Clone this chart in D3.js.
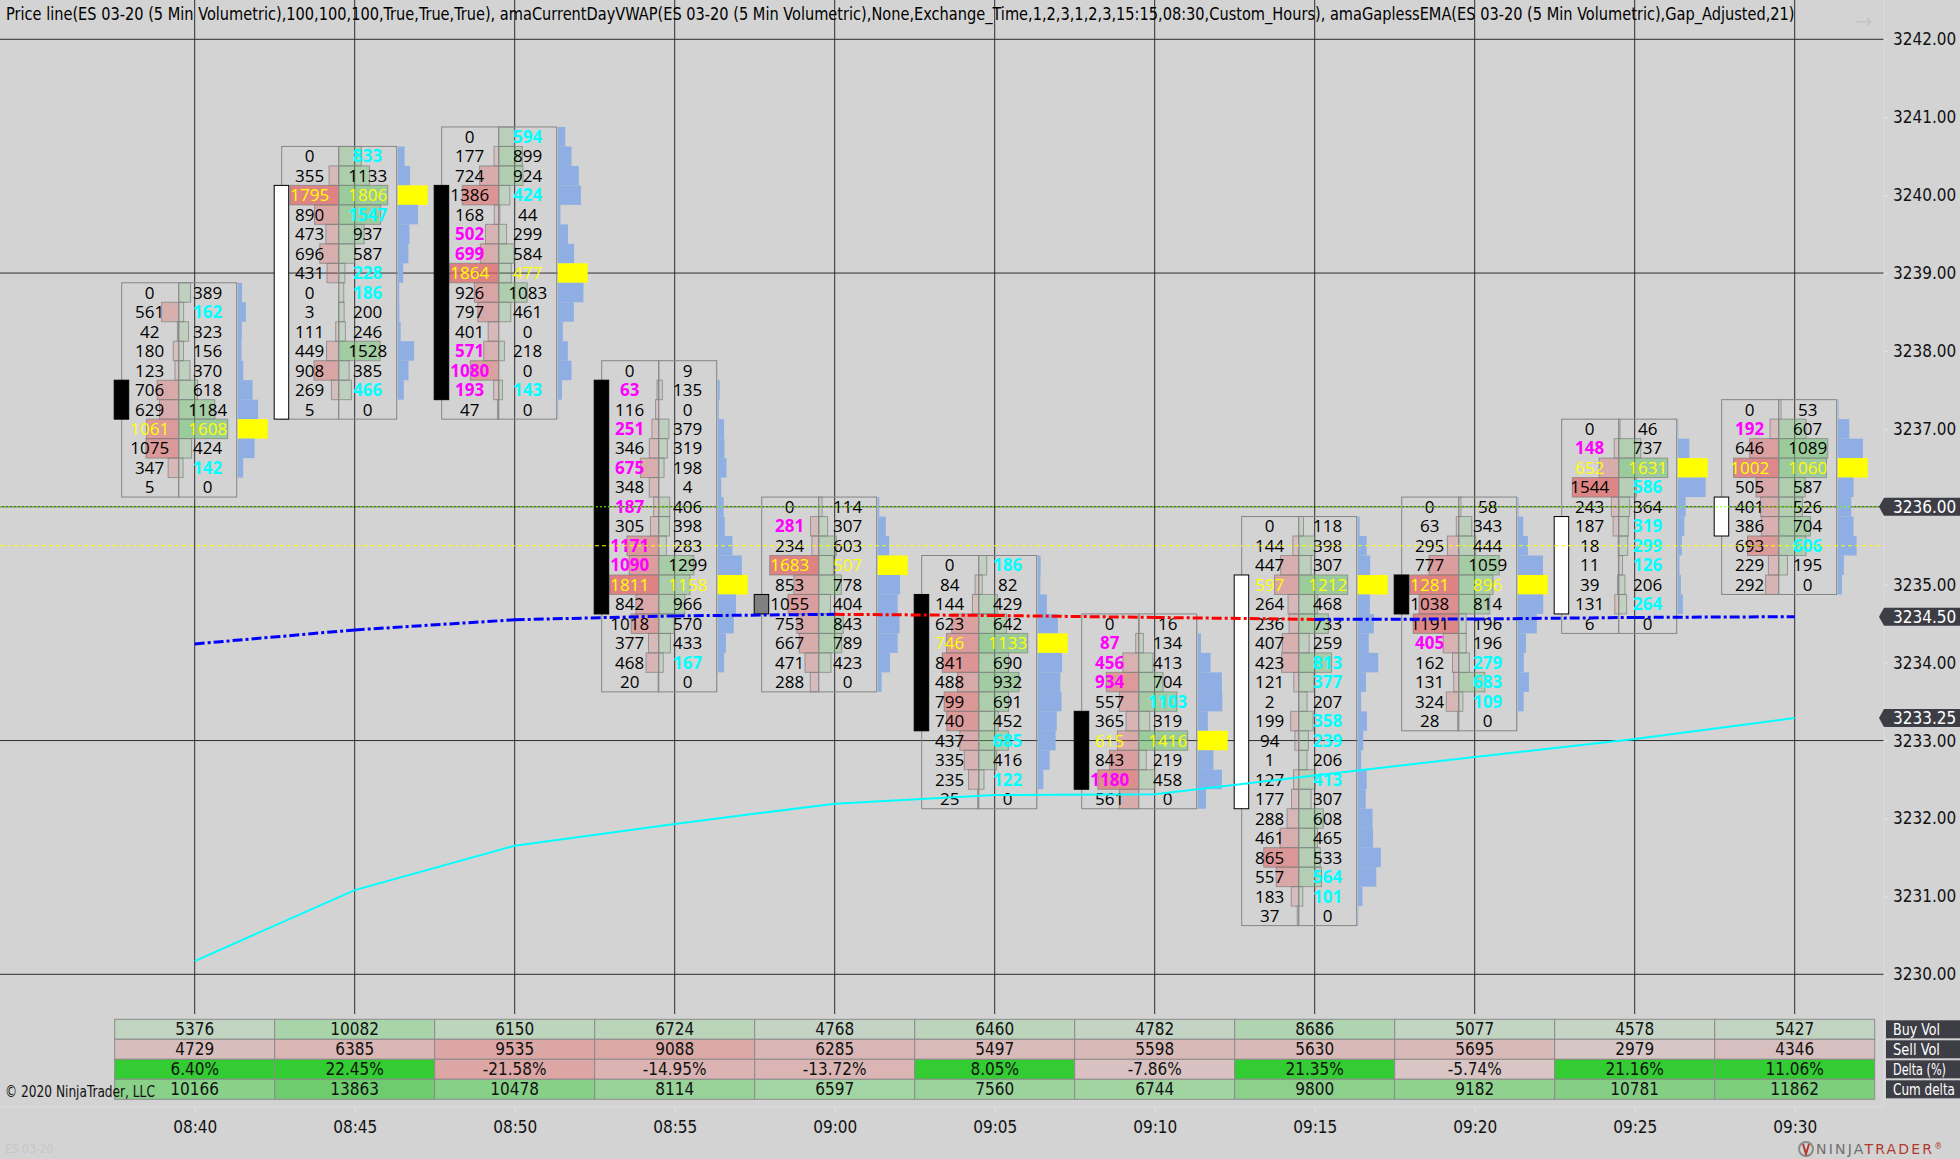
<!DOCTYPE html>
<html>
<head>
<meta charset="utf-8">
<script src="https://cdn.jsdelivr.net/npm/d3@7"></script>
<style>
    html, body { margin: 0; padding: 0; background: #d3d3d3; }
    svg { display: block; }
    .narrow { font-family: "Liberation Sans Narrow", "DejaVu Sans Condensed", "Arial Narrow", sans-serif; }
    .fp { font-family: "Open Sans", "Noto Sans", sans-serif; font-size: 17px; }
</style>
</head>
<body>
<div id="chart"></div>
<script>
// bar times (5 min volumetric)
const times = ["08:40", "08:45", "08:50", "08:55", "09:00", "09:05", "09:10", "09:15", "09:20", "09:25", "09:30"];
// highest price row of each footprint, rows go down in 0.25 ticks
const topPrice = [3238.75, 3240.50, 3240.75, 3237.75, 3236.00, 3235.25, 3234.50, 3235.75, 3236.00, 3237.00, 3237.25];
const bidVol = [
    [0, 561, 42, 180, 123, 706, 629, 1061, 1075, 347, 5],
    [0, 355, 1795, 890, 473, 696, 431, 0, 3, 111, 449, 908, 269, 5],
    [0, 177, 724, 1386, 168, 502, 699, 1864, 926, 797, 401, 571, 1080, 193, 47],
    [0, 63, 116, 251, 346, 675, 348, 187, 305, 1171, 1090, 1811, 842, 1018, 377, 468, 20],
    [0, 281, 234, 1683, 853, 1055, 753, 667, 471, 288],
    [0, 84, 144, 623, 746, 841, 488, 799, 740, 437, 335, 235, 25],
    [0, 87, 456, 934, 557, 365, 615, 843, 1180, 561],
    [0, 144, 447, 597, 264, 236, 407, 423, 121, 2, 199, 94, 1, 127, 177, 288, 461, 865, 557, 183, 37],
    [0, 63, 295, 777, 1281, 1038, 1191, 405, 162, 131, 324, 28],
    [0, 148, 652, 1544, 243, 187, 18, 11, 39, 131, 6],
    [0, 192, 646, 1002, 505, 401, 386, 693, 229, 292]
];
const askVol = [
    [389, 162, 323, 156, 370, 618, 1184, 1608, 424, 142, 0],
    [833, 1133, 1806, 1547, 937, 587, 228, 186, 200, 246, 1528, 385, 466, 0],
    [594, 899, 924, 424, 44, 299, 584, 477, 1083, 461, 0, 218, 0, 143, 0],
    [9, 135, 0, 379, 319, 198, 4, 406, 398, 283, 1299, 1158, 966, 570, 433, 167, 0],
    [114, 307, 603, 507, 778, 404, 843, 789, 423, 0],
    [186, 82, 429, 642, 1133, 690, 932, 691, 452, 685, 416, 122, 0],
    [16, 134, 413, 704, 1103, 319, 1416, 219, 458, 0],
    [118, 398, 307, 1212, 468, 733, 259, 813, 377, 207, 358, 239, 206, 413, 307, 608, 465, 533, 564, 101, 0],
    [58, 343, 444, 1059, 896, 814, 196, 196, 279, 683, 109, 0],
    [46, 737, 1631, 586, 364, 319, 299, 126, 206, 264, 0],
    [53, 607, 1089, 1060, 587, 526, 704, 606, 195, 0]
];
const openPx = [3237.50, 3237.25, 3240.00, 3237.50, 3234.75, 3234.75, 3233.25, 3232.25, 3235.00, 3234.75, 3235.75];
const closePx = [3237.25, 3240.00, 3237.50, 3234.75, 3234.75, 3233.25, 3232.50, 3235.00, 3234.75, 3235.75, 3236.00];
// indicators
const vwapVals = [3234.24, 3234.42, 3234.55, 3234.60, 3234.62, 3234.605, 3234.58, 3234.555, 3234.56, 3234.58, 3234.59];
const emaVals = [3230.17, 3231.08, 3231.65, 3231.93, 3232.19, 3232.30, 3232.31, 3232.55, 3232.79, 3233.02, 3233.29];
// summary table
const buyVol = [5376, 10082, 6150, 6724, 4768, 6460, 4782, 8686, 5077, 4578, 5427];
const sellVol = [4729, 6385, 9535, 9088, 6285, 5497, 5598, 5630, 5695, 2979, 4346];
const deltaPct = [6.40, 22.45, -21.58, -14.95, -13.72, 8.05, -7.86, 21.35, -5.74, 21.16, 11.06];
const cumDelta = [10166, 13863, 10478, 8114, 6597, 7560, 6744, 9800, 9182, 10781, 11862];
const rowLabels = ["Buy Vol", "Sell Vol", "Delta (%)", "Cum delta"];
const rowLabelLen = [47, 47, 53, 62];
const gridPrices = [3242, 3239, 3236, 3233, 3230];
const lastPrice = 3236.00;
const askLine = 3235.50;

const titleText = "Price line(ES 03-20 (5 Min Volumetric),100,100,100,True,True,True), amaCurrentDayVWAP(ES 03-20 (5 Min Volumetric),None,Exchange_Time,1,2,3,1,2,3,15:15,08:30,Custom_Hours), amaGaplessEMA(ES 03-20 (5 Min Volumetric),Gap_Adjusted,21)";

const width = 1960, height = 1159;
const axisX = 1884;
const tick = 0.25;
const parseT = d3.timeParse("%H:%M");

const svg = d3.select("#chart").append("svg")
    .attr("width", width)
    .attr("height", height);

svg.append("rect").attr("width", width).attr("height", height).attr("fill", "#d3d3d3");

// squeeze a text horizontally so it is at most `len` wide
function fitText(sel, x0, y0, len) {
    sel.attr("x", 0).attr("y", 0);
    const w = sel.node().getComputedTextLength();
    const k = w > len ? len / w : 1;
    sel.attr("transform", `translate(${x0},${y0}) scale(${k},1)`);
}

// scales
const x = d3.scaleTime()
    .domain([parseT(times[0]), parseT(times[times.length - 1])])
    .range([194.7, 1794.7]);
const y = d3.scaleLinear()
    .domain([3230, 3242])
    .range([974.3, 39.3]);
const rowH = y(3230) - y(3230 + tick);

// grid
svg.selectAll(".hgrid").data(gridPrices).enter().append("line")
    .attr("x1", 0).attr("x2", axisX)
    .attr("y1", d => y(d)).attr("y2", d => y(d))
    .attr("stroke", "#2e2e2e").attr("stroke-width", 1);
svg.selectAll(".vgrid").data(times).enter().append("line")
    .attr("x1", d => x(parseT(d))).attr("x2", d => x(parseT(d)))
    .attr("y1", 0).attr("y2", 1014)
    .attr("stroke", "#2e2e2e").attr("stroke-width", 1);

// build bars
const bars = times.map((t, i) => {
    const rows = bidVol[i].map((b, j) => ({ price: topPrice[i] - j * tick, bid: b, ask: askVol[i][j] }));
    const maxCell = d3.max(rows, r => Math.max(r.bid, r.ask));
    const maxTot = d3.max(rows, r => r.bid + r.ask);
    const poc = rows.findIndex(r => r.bid + r.ask === maxTot);
    rows.forEach((r, j) => {
        const below = rows[j + 1], above = rows[j - 1];
        r.askImb = below !== undefined && r.ask > 0 && r.ask >= 2 * below.bid;
        r.bidImb = above !== undefined && r.bid > 0 && r.bid >= 2 * above.ask;
        r.poc = j === poc;
    });
    return { cx: x(parseT(t)), rows, maxCell, maxTot, open: openPx[i], close: closePx[i] };
});

const cellMax = 49, profMax = 30;

bars.forEach(bar => {
    const g = svg.append("g");
    const mid = bar.cx - 16;
    const top = y(bar.rows[0].price) - rowH / 2;
    const bottom = y(bar.rows[bar.rows.length - 1].price) + rowH / 2;

    // volume profile
    g.selectAll(".prof").data(bar.rows).enter().append("rect")
        .attr("x", bar.cx + 43)
        .attr("y", d => y(d.price) - rowH / 2)
        .attr("width", d => (d.bid + d.ask) / bar.maxTot * profMax)
        .attr("height", rowH)
        .attr("fill", d => d.poc ? "#ffff00" : "#8eaee4");

    // bid cells
    g.selectAll(".bidc").data(bar.rows.filter(d => d.bid > 0)).enter().append("rect")
        .attr("x", d => mid - d.bid / bar.maxCell * cellMax)
        .attr("y", d => y(d.price) - rowH / 2)
        .attr("width", d => d.bid / bar.maxCell * cellMax)
        .attr("height", rowH)
        .attr("fill", d => `rgba(228,96,96,${0.1 + 0.6 * d.bid / bar.maxCell})`)
        .attr("stroke", "rgba(125,125,125,0.7)");
    // ask cells
    g.selectAll(".askc").data(bar.rows.filter(d => d.ask > 0)).enter().append("rect")
        .attr("x", mid)
        .attr("y", d => y(d.price) - rowH / 2)
        .attr("width", d => d.ask / bar.maxCell * cellMax)
        .attr("height", rowH)
        .attr("fill", d => `rgba(110,196,110,${0.1 + 0.45 * d.ask / bar.maxCell})`)
        .attr("stroke", "rgba(125,125,125,0.7)");

    // box and centre line
    g.append("rect")
        .attr("x", bar.cx - 73).attr("y", top)
        .attr("width", 115).attr("height", bottom - top)
        .attr("fill", "none").attr("stroke", "#858585");
    g.append("line")
        .attr("x1", mid).attr("x2", mid).attr("y1", top).attr("y2", bottom)
        .attr("stroke", "#8a8a8a");

    // numbers
    g.selectAll(".bidt").data(bar.rows).enter().append("text")
        .attr("class", "fp")
        .attr("x", bar.cx - 45)
        .attr("y", d => y(d.price))
        .attr("dy", "0.36em")
        .attr("text-anchor", "middle")
        .attr("font-weight", d => (!d.poc && d.bidImb) ? "bold" : "normal")
        .attr("fill", d => d.poc ? "#ffff00" : d.bidImb ? "#ff00ff" : "#000")
        .text(d => d.bid);
    g.selectAll(".askt").data(bar.rows).enter().append("text")
        .attr("class", "fp")
        .attr("x", bar.cx + 13)
        .attr("y", d => y(d.price))
        .attr("dy", "0.36em")
        .attr("text-anchor", "middle")
        .attr("font-weight", d => (!d.poc && d.askImb) ? "bold" : "normal")
        .attr("fill", d => d.poc ? "#ffff00" : d.askImb ? "#00ffff" : "#000")
        .text(d => d.ask);

    // candle body
    const hi = Math.max(bar.open, bar.close), lo = Math.min(bar.open, bar.close);
    g.append("rect")
        .attr("x", bar.cx - 80.5)
        .attr("y", y(hi) - rowH / 2)
        .attr("width", 14.5)
        .attr("height", y(lo) - y(hi) + rowH)
        .attr("fill", bar.close > bar.open ? "#ffffff" : bar.close < bar.open ? "#000000" : "#808080")
        .attr("stroke", "#000").attr("stroke-width", 1);
});

// price lines
svg.append("line")
    .attr("x1", 0).attr("x2", axisX - 5)
    .attr("y1", y(lastPrice)).attr("y2", y(lastPrice))
    .attr("stroke", "#80ff00").attr("stroke-width", 1).attr("stroke-dasharray", "2,2");
svg.append("line")
    .attr("x1", 0).attr("x2", axisX)
    .attr("y1", y(askLine)).attr("y2", y(askLine))
    .attr("stroke", "#ffff00").attr("stroke-width", 1).attr("stroke-dasharray", "4,3");

// EMA
const line = d3.line()
    .x((d, i) => bars[i].cx)
    .y(d => y(d));
svg.append("path")
    .datum(emaVals)
    .attr("d", line)
    .attr("fill", "none")
    .attr("stroke", "#00ffff")
    .attr("stroke-width", 2);

// VWAP, red where it slopes down
for (let i = 1; i < vwapVals.length; i++) {
    svg.append("line")
        .attr("x1", bars[i - 1].cx).attr("y1", y(vwapVals[i - 1]))
        .attr("x2", bars[i].cx).attr("y2", y(vwapVals[i]))
        .attr("stroke", vwapVals[i] >= vwapVals[i - 1] ? "#0000ff" : "#ff0000")
        .attr("stroke-width", 3)
        .attr("stroke-dasharray", "10,3,3,3");
}

// right price axis
svg.append("line")
    .attr("x1", axisX).attr("x2", axisX).attr("y1", 0).attr("y2", 1107)
    .attr("stroke", "#dcdcdc");
const yAxis = d3.axisRight(y)
    .tickValues(d3.range(3230, 3242.5, 1))
    .tickFormat(d3.format(".2f"))
    .tickSize(4)
    .tickPadding(5);
const ya = svg.append("g")
    .attr("class", "narrow")
    .attr("transform", `translate(${axisX},0)`)
    .call(yAxis);
ya.select(".domain").remove();
ya.selectAll("line").attr("stroke", "#e2e2e2");
ya.selectAll("text").attr("font-size", 17).attr("fill", "#111");

// price markers
const markers = [
    { v: lastPrice, label: "3236.00" },
    { v: vwapVals[vwapVals.length - 1], label: "3234.50" },
    { v: emaVals[emaVals.length - 1], label: "3233.25" }
];
markers.forEach(m => {
    const cy = y(m.v);
    svg.append("path")
        .attr("d", `M${axisX - 5},${cy} L${axisX},${cy - 9} L${width},${cy - 9} L${width},${cy + 9} L${axisX},${cy + 9} Z`)
        .attr("fill", "#3d3d45");
    svg.append("text")
        .attr("class", "narrow")
        .attr("x", axisX + 9).attr("y", cy).attr("dy", "0.36em")
        .attr("font-size", 17).attr("fill", "#fff")
        .text(m.label);
});

// summary table
const tableTop = 1019.3, cellH = 20;
const buyColor = d3.scaleLinear().domain([d3.min(buyVol), d3.max(buyVol)]).range(["#c5d4c5", "#a9d4a9"]);
const sellColor = d3.scaleLinear().domain([d3.min(sellVol), d3.max(sellVol)]).range(["#d6c6c6", "#dca6a4"]);
const negColor = d3.scaleLinear().domain([0, d3.max(deltaPct, d => -d)]).range(["#d6d0d0", "#dca6a4"]);
const cumColor = d3.scaleLinear().domain([d3.min(cumDelta), d3.max(cumDelta)]).range(["#a3d4a3", "#6ecc6e"]);
const tableRows = [
    { vals: buyVol, color: d => buyColor(d), fmt: d => d },
    { vals: sellVol, color: d => sellColor(d), fmt: d => d },
    { vals: deltaPct, color: d => d >= 0 ? "#33cc33" : negColor(-d), fmt: d => d.toFixed(2) + "%" },
    { vals: cumDelta, color: d => cumColor(d), fmt: d => d }
];
tableRows.forEach((row, r) => {
    const ry = tableTop + r * cellH;
    row.vals.forEach((v, i) => {
        svg.append("rect")
            .attr("x", bars[i].cx - 80).attr("y", ry)
            .attr("width", 160).attr("height", cellH)
            .attr("fill", row.color(v))
            .attr("stroke", "#8c8c8c");
        svg.append("text")
            .attr("class", "narrow")
            .attr("x", bars[i].cx).attr("y", ry + cellH / 2).attr("dy", "0.36em")
            .attr("text-anchor", "middle")
            .attr("font-size", 17).attr("fill", "#111")
            .text(row.fmt(v));
    });
    svg.append("rect")
        .attr("x", 1886).attr("y", ry + 1)
        .attr("width", width - 1886).attr("height", cellH - 2)
        .attr("fill", "#3d3d45");
    const lab = svg.append("text")
        .attr("class", "narrow")
        .attr("dy", "0.36em")
        .attr("font-size", 16).attr("fill", "#fff")
        .text(rowLabels[r]);
    fitText(lab, 1893, ry + cellH / 2, rowLabelLen[r]);
});

// time axis
svg.append("line")
    .attr("x1", 0).attr("x2", axisX).attr("y1", 1107).attr("y2", 1107)
    .attr("stroke", "#dcdcdc");
const xAxis = d3.axisBottom(x)
    .ticks(d3.timeMinute.every(5))
    .tickFormat(d3.timeFormat("%H:%M"))
    .tickSize(5);
const xa = svg.append("g")
    .attr("class", "narrow")
    .attr("transform", "translate(0,1107)")
    .call(xAxis);
xa.select(".domain").remove();
xa.selectAll("line").attr("stroke", "#e2e2e2");
xa.selectAll("text").attr("y", 20).attr("dy", "0.36em").attr("font-size", 17).attr("fill", "#111");

// texts
const title = svg.append("text")
    .attr("class", "narrow")
    .attr("font-size", 17).attr("fill", "#000")
    .text(titleText);
fitText(title, 6, 20, 1790);
const copy = svg.append("text")
    .attr("class", "narrow")
    .attr("dy", "0.36em")
    .attr("font-size", 16).attr("fill", "#111")
    .text("\u00a9 2020 NinjaTrader, LLC");
fitText(copy, 5, 1091, 150);
svg.append("text")
    .attr("class", "narrow")
    .attr("x", 5).attr("y", 1149).attr("dy", "0.36em")
    .attr("font-size", 12).attr("fill", "#c6c6c6")
    .text("ES 03-20");
svg.append("text")
    .attr("x", 1864).attr("y", 21).attr("dy", "0.36em")
    .attr("text-anchor", "middle")
    .attr("font-family", "DejaVu Sans, sans-serif")
    .attr("font-size", 20).attr("fill", "#c4c4c4")
    .text("\u2192");

// logo
const logo = svg.append("g").attr("transform", "translate(1806,1149)");
logo.append("circle").attr("r", 7).attr("fill", "none").attr("stroke", "#8a8a8a").attr("stroke-width", 2);
logo.append("path").attr("d", "M-3,-5 L0,5 L3,-5").attr("fill", "none").attr("stroke", "#b03a2e").attr("stroke-width", 2);
const logoText = svg.append("text")
    .attr("x", 1816).attr("y", 1149).attr("dy", "0.36em")
    .attr("font-family", "DejaVu Sans, sans-serif")
    .attr("font-size", 14).attr("letter-spacing", 2.2);
logoText.append("tspan").attr("fill", "#6f6f6f").text("NINJA");
logoText.append("tspan").attr("fill", "#b03a2e").text("TRADER");
logoText.append("tspan").attr("fill", "#b03a2e").attr("font-size", 8).attr("dy", "-0.6em").text("\u00ae");
</script>
</body>
</html>
